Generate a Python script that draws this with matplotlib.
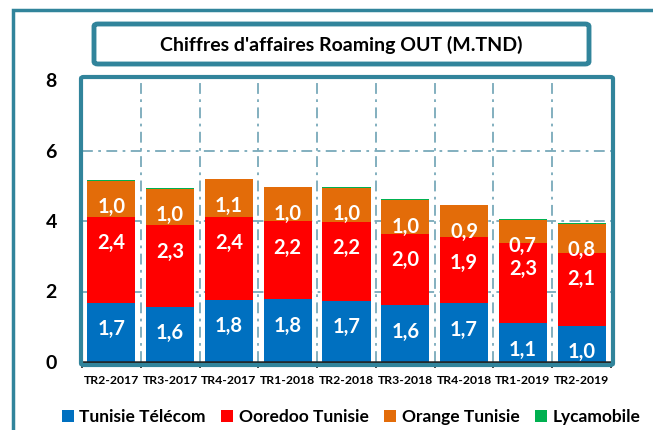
import numpy as np
import matplotlib
matplotlib.use("Agg")
import matplotlib.pyplot as plt
from matplotlib.patches import FancyBboxPatch, Rectangle

plt.rcParams['font.family'] = ['Lato', 'DejaVu Sans']

# Données (M.TND)
trimestres = ["TR2-2017", "TR3-2017", "TR4-2017", "TR1-2018", "TR2-2018",
              "TR3-2018", "TR4-2018", "TR1-2019", "TR2-2019"]
tunisie_telecom = [1.68, 1.57, 1.76, 1.78, 1.73, 1.61, 1.66, 1.10, 1.03]
ooredoo = [2.44, 2.31, 2.36, 2.21, 2.24, 2.02, 1.90, 2.28, 2.06]
orange = [1.02, 1.03, 1.06, 0.97, 0.98, 0.96, 0.88, 0.66, 0.83]
lycamobile = [0.02, 0.02, 0.02, 0.01, 0.02, 0.02, 0.02, 0.01, 0.02]

series = [("Tunisie Télécom", tunisie_telecom, "#0070C0"),
          ("Ooredoo Tunisie", ooredoo, "#FF0000"),
          ("Orange Tunisie", orange, "#E36C09"),
          ("Lycamobile", lycamobile, "#00B050")]

teal = "#31849B"
grille = "#78A9BA"

W, H = 653, 430
fig = plt.figure(figsize=(W / 100, H / 100), dpi=100)
ax = fig.add_axes([82 / W, 68 / H, 529 / W, 282 / H])

x = np.arange(len(trimestres))
bas = np.zeros(len(trimestres))
for nom, valeurs, couleur in series:
    valeurs = np.array(valeurs)
    ax.bar(x, valeurs, 0.82, bottom=bas, color=couleur, label=nom, zorder=3, linewidth=0)
    if nom != "Lycamobile":
        for i, v in enumerate(valeurs):
            ax.annotate(f"{v:.1f}".replace(".", ","), (x[i], bas[i] + v),
                        xytext=(0, -19), textcoords="offset points",
                        ha="center", va="center", color="white",
                        fontsize=14.5, fontweight="bold", zorder=5)
    bas = bas + valeurs

ax.set_xlim(-0.5, len(trimestres) - 0.5)
ax.set_ylim(0, 8)

# grilles en tirets-points
for y in [2, 4, 6]:
    ax.axhline(y, color=grille, lw=1.3, linestyle=(0, (6, 3, 1.5, 3)), zorder=1)
for xb in np.arange(0.5, len(trimestres) - 0.5):
    ax.axvline(xb, color=grille, lw=1.3, linestyle=(0, (6, 3, 1.5, 3)), zorder=1)

ax.set_yticks([0, 2, 4, 6, 8])
ax.set_yticklabels(["0", "2", "4", "6", "8"], fontsize=14, fontweight="bold")
ax.tick_params(axis="y", length=0, pad=18)
ax.set_xticks(x)
ax.set_xticklabels(trimestres, fontsize=8.8, fontweight="bold")
ax.tick_params(axis="x", length=0, pad=9)
ax.set_xticks(np.arange(-0.5, len(trimestres)), minor=True)
ax.tick_params(axis="x", which="minor", length=4, width=1.2, color="#222222")

for s in ["top", "left", "right"]:
    ax.spines[s].set_visible(False)
ax.spines["bottom"].set_color("#222222")
ax.spines["bottom"].set_linewidth(1.8)
ax.spines["bottom"].set_zorder(6)

# cadre du graphique
fig.patches.append(FancyBboxPatch((81 / W, 65 / H), 532 / W, 288 / H,
                                  boxstyle="round,pad=0,rounding_size=0.004",
                                  transform=fig.transFigure, fill=False,
                                  ec=teal, lw=3))
# cadre extérieur
fig.patches.append(Rectangle((13 / W, -0.05), 1.0, 420 / H + 0.05,
                             transform=fig.transFigure, fill=False,
                             ec=teal, lw=2.5))
# boîte du titre
fig.patches.append(FancyBboxPatch((94 / W, 366 / H), 495 / W, 40 / H,
                                  boxstyle="round,pad=0,rounding_size=0.006",
                                  transform=fig.transFigure, fill=False,
                                  ec=teal, lw=3.5))
fig.text(341 / W, 385 / H, "Chiffres d'affaires Roaming OUT (M.TND)",
         ha="center", va="center", fontsize=14, fontweight="bold")

fig.legend(loc="center", bbox_to_anchor=(351 / W, 13 / H), ncol=4, frameon=False,
           handlelength=0.7, handleheight=0.7, handletextpad=0.3,
           columnspacing=0.9, prop={"size": 12.5, "weight": "bold"})

fig.savefig("out.png", dpi=100)
